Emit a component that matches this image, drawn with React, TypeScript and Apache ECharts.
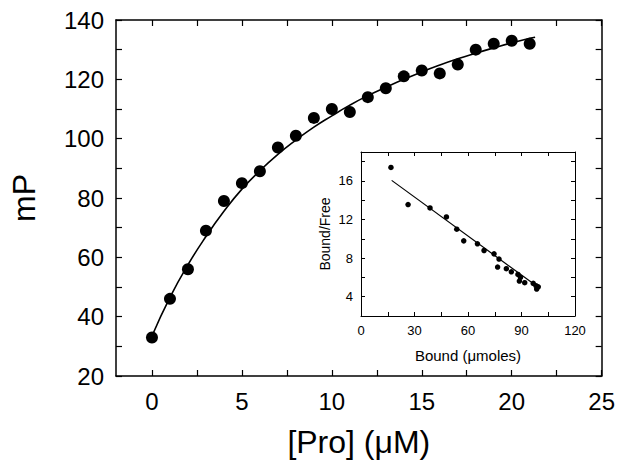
import React, { useEffect, useRef } from "react";
import * as echarts from "echarts";

// Main plot: polarization (mP) vs [Pro] (µM)
const proConc = [0, 1, 2, 3, 4, 5, 6, 7, 8, 9, 10, 11, 12, 13, 14, 15, 16, 17, 18, 19, 20, 21];
const mPValues = [33, 46, 56, 69, 79, 85, 89, 97, 101, 107, 110, 109, 114, 117, 121, 123, 122, 125, 130, 132, 133, 132];

// Fitted curve
const fitX = [0, 1, 2, 3, 4, 5, 6, 7, 8, 9, 10, 11, 12, 13, 14, 15, 16, 17, 18, 19, 20, 21, 21.3];
const fitY = [33.5, 46.5, 57.5, 67, 75.5, 83, 89.2, 94.7, 99.5, 103.9, 107.7, 111.3, 114.5, 117.3, 120, 122.5, 124.8, 126.9, 128.8, 130.6, 132.3, 133.8, 134.2];

// Inset: Scatchard plot
const boundVals = [16.8, 26.4, 38.7, 47.9, 53.7, 57.6, 65.3, 69, 74.6, 77.4, 76.6, 81.5, 84.3, 88, 89.4, 88.8, 91.8, 96.6, 98.1, 99.4, 98.5];
const boundFreeVals = [17.4, 13.55, 13.2, 12.27, 11.0, 9.79, 9.48, 8.79, 8.44, 7.9, 7.07, 6.9, 6.58, 6.31, 6.0, 5.62, 5.45, 5.38, 5.14, 5.03, 4.79];
const insetLineX = [17.2, 98.5];
const insetLineY = [16.06, 5.1];

// Tick values
const mainXTicks = [0, 2.5, 5, 7.5, 10, 12.5, 15, 17.5, 20, 22.5, 25];
const mainXLabels = [0, 5, 10, 15, 20, 25];
const mainYTicks = [20, 30, 40, 50, 60, 70, 80, 90, 100, 110, 120, 130, 140];
const mainYLabels = [20, 40, 60, 80, 100, 120, 140];
const insetXTicks = [0, 15, 30, 45, 60, 75, 90, 105, 120];
const insetXLabels = [0, 30, 60, 90, 120];
const insetYTicks = [4, 6, 8, 10, 12, 14, 16, 18];
const insetYLabels = [4, 8, 12, 16];

const FONT = "Liberation Sans, Arial, sans-serif";

export default function App() {
  const ref = useRef<HTMLDivElement>(null);
  useEffect(() => {
    if (!ref.current) return;
    const chart = echarts.init(ref.current, null, { renderer: "svg" });
    const axisLine = { show: true, onZero: false, lineStyle: { color: "#000", width: 1.5 } };
    const axisLineInset = { show: true, onZero: false, lineStyle: { color: "#000", width: 1 } };
    const tickMain = { show: true, inside: true, length: 6, lineStyle: { color: "#000", width: 1.2 } };
    const tickInset = { show: true, inside: true, length: 4, lineStyle: { color: "#000", width: 1 } };
    const pair = (a: number[], b: number[]) => a.map((v, i) => [v, b[i]]);
    const mainLabel = { color: "#000", fontFamily: FONT, fontSize: 24 };
    const insetLabel = { color: "#000", fontFamily: FONT, fontSize: 13 };

    chart.setOption({
      animation: false,
      backgroundColor: "#fff",
      grid: [
        { left: 116, right: 15, top: 20, bottom: 93, show: false },
        { left: 361, width: 214, top: 152, bottom: 153, show: true, backgroundColor: "#fff", borderWidth: 0 },
      ],
      xAxis: [
        {
          type: "value", gridIndex: 0, position: "bottom", min: -2, max: 25,
          axisLine, axisTick: { ...tickMain, customValues: mainXTicks },
          axisLabel: { ...mainLabel, customValues: mainXLabels, margin: 13 },
          splitLine: { show: false },
          name: "[Pro] (\u03bcM)", nameLocation: "middle", nameGap: 50,
          nameTextStyle: { color: "#000", fontFamily: FONT, fontSize: 32 },
        },
        {
          type: "value", gridIndex: 0, position: "top", min: -2, max: 25,
          axisLine, axisTick: { ...tickMain, customValues: mainXTicks },
          axisLabel: { show: false }, splitLine: { show: false },
        },
        {
          type: "value", gridIndex: 1, position: "bottom", min: 0, max: 120,
          axisLine: axisLineInset, axisTick: { ...tickInset, customValues: insetXTicks },
          axisLabel: { ...insetLabel, customValues: insetXLabels, margin: 8 },
          splitLine: { show: false },
          name: "Bound (\u03bcmoles)", nameLocation: "middle", nameGap: 32,
          nameTextStyle: { color: "#000", fontFamily: FONT, fontSize: 15 },
        },
        {
          type: "value", gridIndex: 1, position: "top", min: 0, max: 120,
          axisLine: axisLineInset, axisTick: { ...tickInset, customValues: insetXTicks },
          axisLabel: { show: false }, splitLine: { show: false },
        },
      ],
      yAxis: [
        {
          type: "value", gridIndex: 0, position: "left", min: 20, max: 140,
          axisLine, axisTick: { ...tickMain, customValues: mainYTicks },
          axisLabel: { ...mainLabel, customValues: mainYLabels, margin: 12 },
          splitLine: { show: false },
          name: "mP", nameLocation: "middle", nameGap: 76, nameRotate: 90,
          nameTextStyle: { color: "#000", fontFamily: FONT, fontSize: 32 },
        },
        {
          type: "value", gridIndex: 0, position: "right", min: 20, max: 140,
          axisLine, axisTick: { ...tickMain, customValues: mainYTicks },
          axisLabel: { show: false }, splitLine: { show: false },
        },
        {
          type: "value", gridIndex: 1, position: "left", min: 2, max: 19,
          axisLine: axisLineInset,
          axisTick: { ...tickInset, customValues: insetYTicks },
          axisLabel: { ...insetLabel, customValues: insetYLabels, margin: 8 },
          splitLine: { show: false },
          name: "Bound/Free", nameLocation: "middle", nameGap: 29, nameRotate: 90,
          nameTextStyle: { color: "#000", fontFamily: FONT, fontSize: 14 },
        },
        {
          type: "value", gridIndex: 1, position: "right", min: 2, max: 19,
          axisLine: axisLineInset,
          axisTick: { ...tickInset, customValues: insetYTicks },
          axisLabel: { show: false }, splitLine: { show: false },
        },
      ],
      series: [
        {
          type: "line", xAxisIndex: 0, yAxisIndex: 0, data: pair(fitX, fitY),
          smooth: true, showSymbol: false, lineStyle: { color: "#000", width: 1.6 }, z: 2,
        },
        {
          type: "scatter", xAxisIndex: 0, yAxisIndex: 0, data: pair(proConc, mPValues),
          symbol: "circle", symbolSize: 12, itemStyle: { color: "#000", opacity: 1 }, z: 3,
        },
        {
          type: "line", xAxisIndex: 2, yAxisIndex: 2, data: pair(insetLineX, insetLineY),
          showSymbol: false, lineStyle: { color: "#000", width: 1.2 }, z: 4,
        },
        {
          type: "scatter", xAxisIndex: 2, yAxisIndex: 2, data: pair(boundVals, boundFreeVals),
          symbol: "circle", symbolSize: 5.5, itemStyle: { color: "#000", opacity: 1 }, z: 5,
        },
      ],
    });
    return () => chart.dispose();
  }, []);
  return <div ref={ref} style={{ width: 618, height: 469, position: "fixed", left: 0, top: 0 }} />;
}
